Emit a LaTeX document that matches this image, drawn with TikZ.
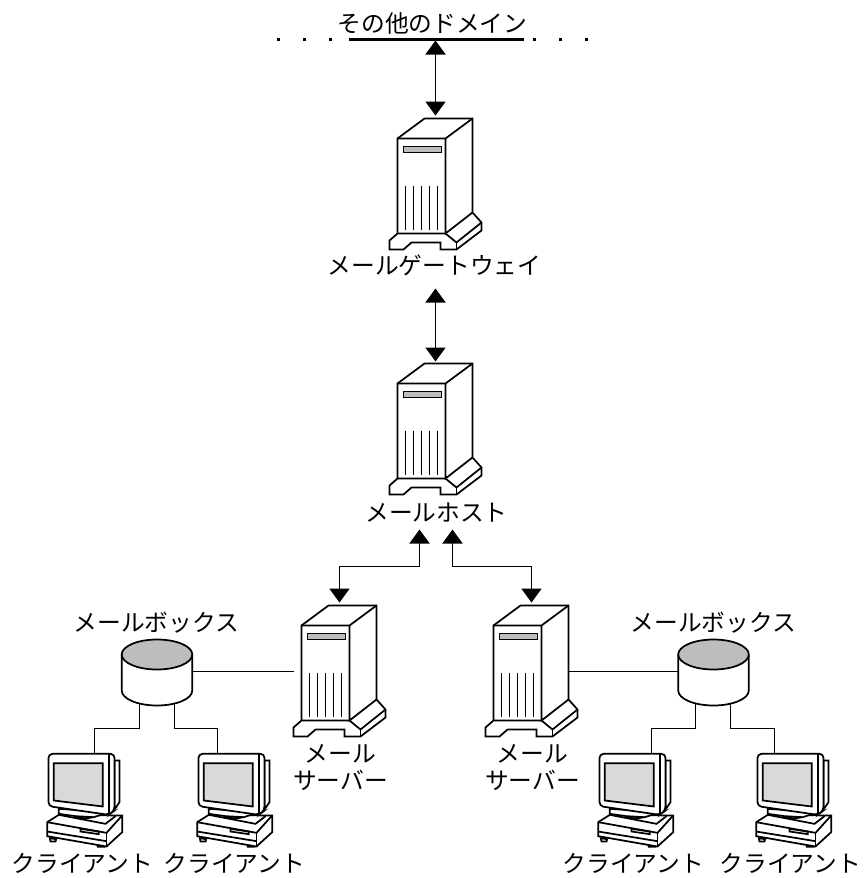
\documentclass[tikz,border=0pt]{standalone}
\usepackage{fontspec}
\setmainfont{Noto Sans CJK JP}
\usetikzlibrary{arrows.meta}
\definecolor{slotgray}{HTML}{BDBDBD}
\definecolor{screengray}{HTML}{D9D9D9}
\tikzset{
  x=.75pt,y=-.75pt,
  every path/.style={line join=miter},
  ln/.style={line width=1.3pt,black},
  arr/.style={ln,{Triangle[width=15pt,length=10.5pt]}-{Triangle[width=15pt,length=10.5pt]}},
  lab/.style={font=\fontsize{17.8}{20.5}\selectfont,inner sep=0pt,align=center},
  holder/.style={inner sep=0pt,outer sep=0pt},
  dotmark/.style={fill=black,inner sep=0pt,minimum size=2.25pt},
  server/.pic={
    \draw[ln,fill=white] (397,138)--(424,118)--(472,118)--(472,212)--(481,222)--(481,230)--(456,249)--(440,249)--(440,242)--(411,242)--(403,249)--(389,249)--(389,240)--(397,233)--cycle;
    \draw[ln] (397,138)--(445,138)--(472,118);
    \draw[ln] (445,138)--(445,233)--(472,212);
    \draw[ln] (397,233)--(445,233)--(456,242)--(481,222);
    \draw[ln] (456,242)--(456,249);
    \draw[ln,fill=slotgray] (403,146) rectangle (441,152);
    \foreach \xx in {405,413,421,429,437}{\draw[ln] (\xx,185)--(\xx,229);}
  },
  pcbox/.pic={
    \begin{scope}[x=.25pt,y=-.25pt]
      \draw[ln,fill=white] (28,278)--(30,288)--(45,288)--(47,281)--cycle;
      \draw[ln,fill=white] (170,297)--(172,304)--(192,304)--(196,300)--cycle;
      \draw[ln,fill=white] (20,230)--(55,208)--(245,210)--(245,260)--(198,303)--(20,272)--cycle;
      \draw[ln] (20,230)--(198,262)--(245,210);
      \draw[ln] (198,262)--(198,303);
      \draw[ln] (20,258)--(198,287);
      \draw[ln] (120,250)--(175,258)--(175,266)--(120,258)--cycle;
      \draw[ln] (55,208)--(195,235)--(225,212);
      \draw[ln,fill=white] (133,212) ellipse [x radius=28,y radius=6];
      \draw[ln,fill=white] (55,190)--(55,205)--(105,212)--(160,215)--(205,200)--cycle;
      \draw[ln,fill=white] (222,45)--(237,45)--(237,170)--(222,192)--cycle;
      \draw[ln,fill=white,rounded corners=3pt] (24,182)--(24,25)--(222,25)--(222,195)--(205,208)--cycle;
      \draw[ln] (205,25)--(205,208);
      \draw[ln,fill=screengray] (40,53)--(187,53)--(187,183)--(40,165)--cycle;
    \end{scope}
  },
  cyl/.pic={
    \draw[ln,fill=white] (-35.3,-18) -- (-35.3,18) arc[start angle=180,end angle=0,x radius=35.3,y radius=15] -- (35.3,-18);
    \draw[ln,fill=slotgray] (0,-18) ellipse [x radius=35.3,y radius=15];
  }
}
\begin{document}
\begin{tikzpicture}
\useasboundingbox (-.5,-.5) rectangle (866.5,877.5);

% holders for the drawn equipment
\node[holder,minimum width=69pt,minimum height=98.25pt] (gw) at (435,183.5) {};
\node[holder,minimum width=69pt,minimum height=98.25pt] (host) at (435,428.5) {};
\node[holder,minimum width=69pt,minimum height=98.25pt] (srvL) at (339,670.5) {};
\node[holder,minimum width=69pt,minimum height=98.25pt] (srvR) at (531,670.5) {};
\node[holder,minimum width=53pt,minimum height=49.5pt] (mbL) at (156.5,671) {};
\node[holder,minimum width=53pt,minimum height=49.5pt] (mbR) at (713,671) {};

% labels
\node[lab] (ldom) at (432,23) {その他のドメイン};
\node[lab] (lgw) at (434,265) {メールゲートウェイ};
\node[lab] (lhost) at (436,512) {メールホスト};
\node[lab] (lmbL) at (156,622) {メールボックス};
\node[lab] (lmbR) at (713,622) {メールボックス};
\node[lab] (lsrvL) at (340,767) {メール\\サーバー};
\node[lab] (lsrvR) at (532,767) {メール\\サーバー};
\node[lab] (c1) at (82,863) {クライアント};
\node[lab] (c2) at (234,863) {クライアント};
\node[lab] (c3) at (633,863) {クライアント};
\node[lab] (c4) at (790,863) {クライアント};

% domain rule and dots
\coordinate (ruleA) at (348,39);
\coordinate (ruleB) at (523,39);
\coordinate (ruleM) at (435,40);
\draw[line width=2pt] (ruleA)--(ruleB);
\foreach \nm/\xx in {d1/278,d2/304,d3/330,d4/534,d5/560,d6/586}{\node[dotmark] (\nm) at (\xx,39) {};}

% connection ports
\coordinate (upL) at (419,529);
\coordinate (upR) at (452,529);
\coordinate (gwUp) at (435,288);
\coordinate (cL1) at (139,700);
\coordinate (cL2) at (174,700);
\coordinate (cR1) at (695,700);
\coordinate (cR2) at (730,700);
\coordinate (p1) at (94,753);
\coordinate (p2) at (217,753);
\coordinate (p3) at (651,753);
\coordinate (p4) at (774,753);
\coordinate (srvRside) at (568,671);

% connectors
\draw[arr,shorten >=2.2pt] (ruleM)--(gw.north);
\draw[arr,shorten >=1.5pt] (gwUp)--(host.north);
\draw[arr,shorten >=2.2pt] (upL)|-(srvL.north |- 0,566)--(srvL.north);
\draw[arr,shorten >=2.2pt] (upR)|-(srvR.north |- 0,566)--(srvR.north);
\draw[ln] (mbL.east)--(srvL.west |- mbL.east);
\draw[ln] (srvRside)--(mbR.west);
\draw[ln] (cL1)--(139,728)-|(p1);
\draw[ln] (cL2)--(174,728)-|(p2);
\draw[ln] (cR1)--(695,728)-|(p3);
\draw[ln] (cR2)--(730,728)-|(p4);

% equipment
\pic at (0,0) {server};
\pic at (0,245) {server};
\pic at (-96,487) {server};
\pic at (96,487) {server};
\pic at (156.5,672) {cyl};
\pic at (713,672) {cyl};
\pic at (40,745) {pcbox};
\pic at (190,745) {pcbox};
\pic at (591,745) {pcbox};
\pic at (749,745) {pcbox};
\end{tikzpicture}
\end{document}
